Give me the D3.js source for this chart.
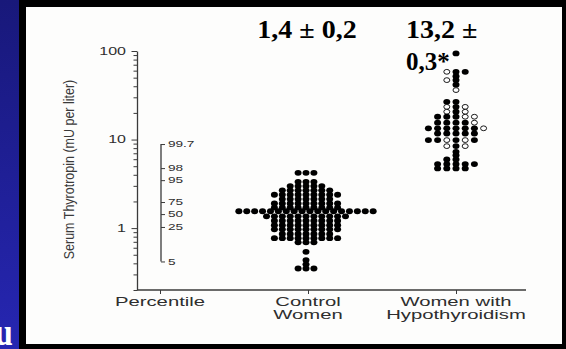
<!DOCTYPE html>
<html>
<head>
<meta charset="utf-8">
<script src="https://cdn.jsdelivr.net/npm/d3@7"></script>
<style>
  body { margin: 0; background: #000; }
  svg { display: block; }
  text { font-family: "Liberation Sans", Arial, sans-serif; }
</style>
</head>
<body>
<div id="chart"></div>
<script>
// ---- data ----
const categories = ["Percentile", "Control Women", "Women with Hypothyroidism"];
const categoryLines = [["Percentile"], ["Control", "Women"], ["Women with", "Hypothyroidism"]];

const yTickValues = [0.2, 0.3, 0.4, 0.5, 0.6, 0.7, 0.8, 0.9, 1, 2, 3, 4, 5, 6, 7, 8, 9, 10,
                     20, 30, 40, 50, 60, 70, 80, 90, 100];
const yMajor = [1, 10, 100];

const percentileLabels = ["99.7", "98", "95", "75", "50", "25", "5"];
const percentileTSH = [8.9, 4.76, 3.48, 1.97, 1.44, 1.03, 0.42];

// control women: one row per TSH bin, count of dots in the row
const controlTSH = [4.21, 3.33, 2.98, 2.67, 2.38, 2.13, 1.90, 1.70, 1.55, 1.36,
                    1.21, 1.08, 0.97, 0.86, 0.77, 0.69, 0.54, 0.435, 0.39, 0.35];
const controlCount = [3, 3, 5, 7, 9, 7, 9, 9, 18, 11, 9, 9, 9, 7, 9, 3, 1, 1, 1, 3];

// hypothyroid women: F = filled dot, O = open dot, . = empty slot (7 slots per row)
const hypoTSH = [94, 58.2, 52, 46.9, 41.7, 36.2, 26.7, 23.4, 20.6, 18.1,
                 15.5, 13.4, 11.7, 9.86, 8.43, 7.27, 6.67, 5.97, 5.28, 4.72];
const hypoPattern = ["...F...", "..OFF..", "...F...", "..OF...", "...F...", "...O...",
                     "..FF...", "..OFO..", "..OFO..", ".FFFOO.", ".FFFFO.", "FFFFFFO",
                     ".FFFFF.", "FFOFOF.", "..OFO..", "...F...", "...F...", "..FF...",
                     ".FFFFF.", ".FFFF.."];

const controlStat = ["1,4 \u00b1 0,2"];
const hypoStat = ["13,2 \u00b1", "0,3*"];

// ---- layout ----
const W = 566, H = 349;
const sx = 1.56;          // the slide picture is stretched sideways

const svg = d3.select("#chart").append("svg")
    .attr("width", W)
    .attr("height", H);

// backdrop: blue slide strip, black frame, white panel
const grad = svg.append("defs").append("linearGradient")
    .attr("id", "side").attr("x1", 0).attr("y1", 0).attr("x2", 0).attr("y2", 1);
grad.append("stop").attr("offset", "0%").attr("stop-color", "#18187a");
grad.append("stop").attr("offset", "100%").attr("stop-color", "#2626b2");
svg.append("rect").attr("width", W).attr("height", H).attr("fill", "#000");
svg.append("rect").attr("width", 19).attr("height", H).attr("fill", "url(#side)");
svg.append("clipPath").attr("id", "sideclip")
    .append("rect").attr("width", 19).attr("height", H);
svg.append("g")
    .attr("clip-path", "url(#sideclip)")
    .append("text")
    .attr("transform", "translate(-5,345) scale(1,1.2)")
    .style("font-family", "'Liberation Serif', serif")
    .style("font-weight", "bold")
    .style("font-size", "32px")
    .attr("fill", "#fff")
    .text("u");
svg.append("rect")
    .attr("x", 26).attr("y", 7)
    .attr("width", 536).attr("height", 337)
    .attr("fill", "#fdfdfc");

// scales
const y = d3.scaleLog().domain([0.2, 100]).range([290, 51]);
const x = d3.scalePoint().domain(categories).range([160, 456]);

const axisColor = "#3a3a3a";
const textColor = "#2e2e2e";

// y axis
const gy = svg.append("g")
    .attr("transform", "translate(137,0)")
    .call(d3.axisLeft(y)
        .tickValues(yTickValues)
        .tickSize(3.5)
        .tickSizeOuter(0)
        .tickFormat(d => yMajor.includes(d) ? d3.format("d")(d) : ""));
gy.select(".domain").attr("stroke", axisColor).attr("stroke-width", 1.3);
gy.selectAll(".tick line").attr("stroke", axisColor);
gy.selectAll(".tick").filter(d => yMajor.includes(d)).select("line").attr("x2", -5.5);
gy.selectAll(".tick text")
    .attr("x", -11 / 1.6)
    .attr("transform", "scale(1.6,1)")
    .attr("fill", textColor)
    .style("font-size", "10px");

// y title
svg.append("text")
    .attr("transform", "translate(74,169.5) rotate(-90) scale(1,1.2)")
    .attr("text-anchor", "middle")
    .attr("fill", "#3a3a3a")
    .style("font-size", "12.5px")
    .text("Serum Thyrotropin (mU per liter)");

// x axis
const gx = svg.append("g")
    .attr("transform", "translate(0,290)")
    .call(d3.axisBottom(x).tickSize(4).tickFormat(""));
gx.select(".domain").remove();
gx.selectAll(".tick line").attr("stroke", axisColor);
svg.append("line")
    .attr("x1", 137).attr("x2", 526)
    .attr("y1", 290).attr("y2", 290)
    .attr("stroke", axisColor)
    .attr("stroke-width", 1.3);

categoryLines.forEach((lines, i) => {
    lines.forEach((s, j) => {
        svg.append("text")
            .attr("transform", `translate(${x(categories[i])},${305.5 + j * 13}) scale(${sx},1)`)
            .attr("text-anchor", "middle")
            .attr("fill", textColor)
            .style("font-size", "13px")
            .text(s);
    });
});

// percentile bracket
const px = x(categories[0]) + 1;
const gp = svg.append("g")
    .attr("transform", `translate(${px},0)`)
    .call(d3.axisRight(y)
        .tickValues(percentileTSH)
        .tickSize(4)
        .tickFormat((d, i) => percentileLabels[i]));
gp.select(".domain").remove();
gp.selectAll(".tick line").attr("stroke", axisColor);
gp.append("line")
    .attr("y1", y(d3.max(percentileTSH)))
    .attr("y2", y(d3.min(percentileTSH)))
    .attr("stroke", axisColor)
    .attr("stroke-width", 1.3);
gp.selectAll(".tick text")
    .attr("x", 7 / 1.6)
    .attr("transform", "scale(1.6,1)")
    .attr("fill", textColor)
    .style("font-size", "8.5px");

// dots
const dots = [];
const ctrlX = x(categories[1]) - 2, ctrlDx = 7.9;
controlTSH.forEach((v, r) => {
    const n = controlCount[r];
    for (let i = 0; i < n; i++) {
        dots.push({ cx: ctrlX + (i - (n - 1) / 2) * ctrlDx, v: v, open: false });
    }
});
const hypoX = x(categories[2]), hypoDx = 9.2;
hypoTSH.forEach((v, r) => {
    hypoPattern[r].split("").forEach((c, i) => {
        if (c === ".") return;
        dots.push({ cx: hypoX + (i - 3) * hypoDx, v: v, open: c === "O" });
    });
});

svg.append("g").selectAll("ellipse")
    .data(dots)
    .enter()
    .append("ellipse")
    .attr("cx", d => d.cx)
    .attr("cy", d => y(d.v))
    .attr("rx", d => d.open ? 3.0 : 3.5)
    .attr("ry", d => d.open ? 2.4 : 2.9)
    .attr("fill", d => d.open ? "#fff" : "#000")
    .attr("stroke", d => d.open ? "#000" : "none")
    .attr("stroke-width", 0.9);

// group statistics (slide overlay, serif bold)
function stat(lines, xPos, anchor) {
    lines.forEach((s, j) => {
        svg.append("text")
            .attr("transform", `translate(${xPos},${38 + j * 32}) scale(${j ? 1.0 : 1.12},1)`)
            .attr("text-anchor", anchor)
            .attr("fill", "#000")
            .style("font-family", "'Liberation Serif', 'Times New Roman', serif")
            .style("font-weight", "bold")
            .style("font-size", "25px")
            .text(s);
    });
}
stat(controlStat, 307, "middle");
stat(hypoStat, 406, "start");
</script>
</body>
</html>
